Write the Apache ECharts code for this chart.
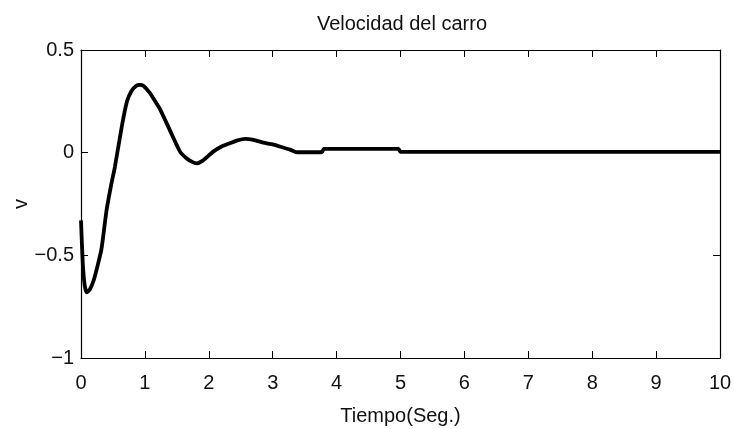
<!DOCTYPE html>
<html>
<head>
<meta charset="utf-8">
<script src="https://cdn.jsdelivr.net/npm/echarts@6/dist/echarts.min.js"></script>
<style>html,body{margin:0;padding:0;background:#fff}#c{width:734px;height:429px}</style>
</head>
<body>
<div id="c"></div>
<script>
var titleText = "Velocidad del carro";
var xName = "Tiempo(Seg.)";
var yName = "v";
var xTicks = [0,1,2,3,4,5,6,7,8,9,10];
var yTicks = [-1,-0.5,0,0.5];
var time = [0, 0.03, 0.06, 0.09, 0.14, 0.20, 0.26, 0.32, 0.40, 0.47, 0.53, 0.64, 0.72, 0.79, 0.86, 0.92, 0.98, 1.08, 1.16, 1.24, 1.39, 1.55, 1.65, 1.74, 1.81, 1.90, 2.07, 2.20, 2.33, 2.45, 2.57, 2.70, 2.85, 3.00, 3.11, 3.27, 3.38, 3.77, 3.80, 4.97, 5.00, 10];
var velocity = [-0.33, -0.55, -0.65, -0.68, -0.665, -0.62, -0.55, -0.47, -0.28, -0.16, -0.07, 0.13, 0.25, 0.30, 0.325, 0.33, 0.325, 0.29, 0.25, 0.21, 0.11, 0.005, -0.027, -0.045, -0.052, -0.04, 0.005, 0.03, 0.046, 0.06, 0.067, 0.062, 0.049, 0.04, 0.03, 0.015, 0.002, 0.002, 0.018, 0.018, 0.004, 0.004];

var font = "'Liberation Sans Narrow', 'Liberation Sans', Arial, sans-serif";
var pts = time.map(function(t, i){ return [t, velocity[i]]; });
var chart = echarts.init(document.getElementById('c'), null, {renderer:'canvas'});
var tick = {show:true, inside:true, length:7, lineStyle:{color:'#000', width:1}};
var line = {show:true, onZero:false, lineStyle:{color:'#000', width:1.2}};
chart.setOption({
  animation:false,
  backgroundColor:'#fff',
  title:{text:titleText, left:397, top:9, textAlign:'center',
    textStyle:{fontFamily:font, fontSize:20, fontWeight:'normal', color:'#111'}},
  grid:{left:81, right:14, top:50, bottom:71, containLabel:false, outerBoundsMode:'none'},
  xAxis:[
    {type:'value', min:0, max:10, interval:1, position:'bottom',
     axisLine:line, axisTick:tick, splitLine:{show:false},
     axisLabel:{margin:15, fontFamily:font, fontSize:20, color:'#111',
       formatter:function(v){ return xTicks.indexOf(v)>=0 ? String(v) : ''; }},
     name:xName, nameLocation:'middle', nameGap:48, nameMoveOverlap:false,
     nameTextStyle:{fontFamily:font, fontSize:20, color:'#111'}},
    {type:'value', min:0, max:10, interval:1, position:'top',
     axisLine:line, axisTick:tick, axisLabel:{show:false}, splitLine:{show:false}}
  ],
  yAxis:[
    {type:'value', min:-1, max:0.5, interval:0.5, position:'left',
     axisLine:line, axisTick:tick, splitLine:{show:false},
     axisLabel:{margin:7, fontFamily:font, fontSize:20, color:'#111',
       formatter:function(v){ return yTicks.indexOf(v)>=0 ? (v<0 ? '\u2212'+String(-v) : String(v)) : ''; }},
     name:yName, nameLocation:'middle', nameGap:50, nameRotate:90, nameMoveOverlap:false,
     nameTextStyle:{fontFamily:font, fontSize:20, color:'#111'}},
    {type:'value', min:-1, max:0.5, interval:0.5, position:'right',
     axisLine:line, axisTick:tick, axisLabel:{show:false}, splitLine:{show:false}}
  ],
  series:[{type:'line', data:pts, showSymbol:false, smooth:0.2,
    lineStyle:{color:'#000', width:3.8}, xAxisIndex:0, yAxisIndex:0}]
});
</script>
</body>
</html>
